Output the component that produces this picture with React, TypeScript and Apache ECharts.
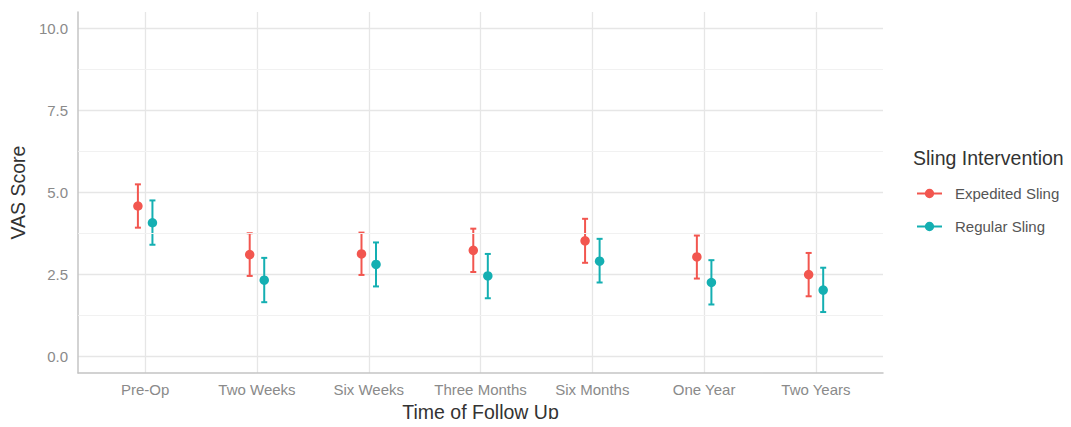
import React, { useEffect, useRef } from "react";
import * as echarts from "echarts";

const categories = ["Pre-Op", "Two Weeks", "Six Weeks", "Three Months", "Six Months", "One Year", "Two Years"];
const groups = ["Expedited Sling", "Regular Sling"];
const expeditedMean = [4.59, 3.11, 3.13, 3.24, 3.53, 3.04, 2.5];
const expeditedLow = [3.93, 2.46, 2.49, 2.58, 2.86, 2.38, 1.84];
const expeditedHigh = [5.25, 3.76, 3.78, 3.9, 4.2, 3.69, 3.16];
const regularMean = [4.08, 2.33, 2.81, 2.46, 2.91, 2.26, 2.03];
const regularLow = [3.41, 1.66, 2.14, 1.78, 2.26, 1.59, 1.36];
const regularHigh = [4.76, 3.01, 3.48, 3.13, 3.59, 2.94, 2.71];
const yTicks = [0, 2.5, 5, 7.5, 10];
const yMinor = [1.25, 3.75, 6.25, 8.75];

const colors = ["#F2564F", "#14AFB2"];
const dodge = [-0.065, 0.065];
const FONT = "Liberation Sans, Arial, sans-serif";

export default function App() {
  const ref = useRef<HTMLDivElement>(null);
  useEffect(() => {
    if (!ref.current) return;
    const chart = echarts.init(ref.current, undefined, { renderer: "svg" });
    const catIdx = categories.map((_, i) => i);
    const sets = [
      { mean: expeditedMean, low: expeditedLow, high: expeditedHigh },
      { mean: regularMean, low: regularLow, high: regularHigh },
    ];
    const series: any[] = [];
    series.push({
      name: "grid",
      type: "line",
      data: [],
      silent: true,
      z: 0,
      markLine: {
        silent: true,
        symbol: "none",
        label: { show: false },
        animation: false,
        lineStyle: { color: "#f1f1f1", width: 1.2, type: "solid" },
        data: yMinor.map((v) => ({ yAxis: v })),
      },
    });
    sets.forEach((s, gi) => {
      const color = colors[gi];
      series.push({
        name: groups[gi],
        type: "custom",
        z: 3,
        data: catIdx.map((i) => [i + dodge[gi], s.low[i], s.high[i]]),
        encode: { x: 0, y: [1, 2] },
        renderItem: (params: any, api: any) => {
          const x = api.value(0);
          const pLo = api.coord([x, api.value(1)]);
          const pHi = api.coord([x, api.value(2)]);
          const hw = 3;
          const st = { stroke: color, lineWidth: 2 };
          return {
            type: "group",
            children: [
              { type: "line", shape: { x1: pLo[0], y1: pLo[1], x2: pHi[0], y2: pHi[1] }, style: st },
              { type: "line", shape: { x1: pHi[0] - hw, y1: pHi[1], x2: pHi[0] + hw, y2: pHi[1] }, style: st },
              { type: "line", shape: { x1: pLo[0] - hw, y1: pLo[1], x2: pLo[0] + hw, y2: pLo[1] }, style: st },
            ],
          };
        },
      });
      series.push({
        name: groups[gi],
        type: "scatter",
        z: 4,
        symbol: "circle",
        symbolSize: 9.5,
        itemStyle: { color, opacity: 1 },
        data: catIdx.map((i) => [i + dodge[gi], s.mean[i]]),
      });
    });

    chart.setOption({
      animation: false,
      color: colors,
      title: {
        text: "Sling Intervention",
        left: 913,
        top: 148,
        padding: 0,
        textStyle: { fontFamily: FONT, fontSize: 19.5, fontWeight: "normal", color: "#333" },
      },
      legend: {
        data: groups.map((g, i) => ({ name: g, itemStyle: { color: colors[i] } })),
        orient: "vertical",
        left: 912,
        top: 181,
        itemWidth: 25,
        itemHeight: 10,
        itemGap: 18,
        icon: "path://M0,4H24V6H0Z M16.5,5A4.5,4.5 0 1,1 7.5,5A4.5,4.5 0 1,1 16.5,5Z",
        textStyle: { fontFamily: FONT, fontSize: 15, color: "#555", padding: [0, 0, 0, 8] },
      },
      grid: { left: 77, right: 188, top: 12, bottom: 49, containLabel: false },
      xAxis: {
        type: "value",
        min: -0.6,
        max: 6.6,
        name: "Time of Follow Up",
        nameLocation: "middle",
        nameGap: 26,
        nameTextStyle: { fontFamily: FONT, fontSize: 19.5, color: "#333" },
        axisLine: { show: true, onZero: false, lineStyle: { color: "#c4c4c4", width: 1.5 } },
        axisTick: { show: false, customValues: catIdx },
        axisLabel: {
          customValues: catIdx,
          formatter: (v: number) => categories[Math.round(v)],
          fontFamily: FONT,
          fontSize: 15,
          color: "#8a8a8a",
          margin: 9,
        },
        splitLine: { show: true, lineStyle: { color: "#e6e6e6", width: 1.3 } },
      },
      yAxis: {
        type: "value",
        min: -0.5,
        max: 10.5,
        name: "VAS Score",
        nameLocation: "middle",
        nameGap: 37,
        nameTextStyle: { fontFamily: FONT, fontSize: 19.5, color: "#333" },
        axisLine: { show: true, onZero: false, lineStyle: { color: "#c4c4c4", width: 1.5 } },
        axisTick: { show: false, customValues: yTicks },
        axisLabel: {
          customValues: yTicks,
          formatter: (v: number) => v.toFixed(1),
          fontFamily: FONT,
          fontSize: 15,
          color: "#8a8a8a",
          margin: 10,
        },
        splitLine: { show: true, lineStyle: { color: "#e6e6e6", width: 1.3 } },
      },
      series,
    });
    return () => chart.dispose();
  }, []);
  return <div ref={ref} style={{ width: 1071, height: 427, margin: -8 }} />;
}
